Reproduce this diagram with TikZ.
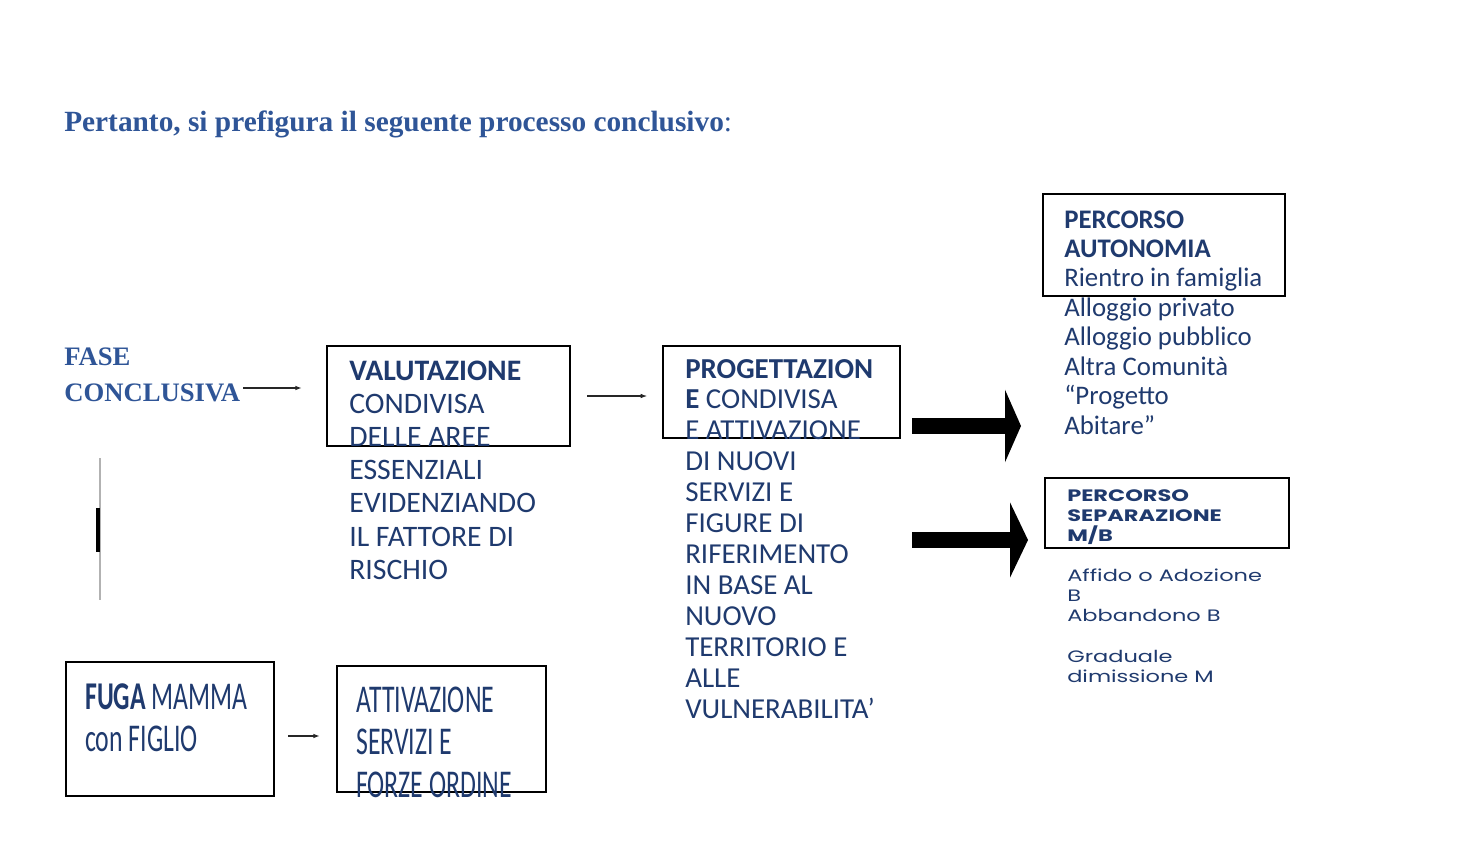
\documentclass[tikz,border=0pt]{standalone}
\usepackage{fontspec}
\setmainfont{Liberation Serif}
\newfontfamily\calfont{Carlito}
\newfontfamily\condfont[FakeStretch=0.655]{Carlito}
\newfontfamily\gothfont[FakeStretch=1.36]{Poppins}
\usetikzlibrary{arrows.meta,fit}
\definecolor{titleblue}{HTML}{2F5597}
\definecolor{navy}{HTML}{1F3A6E}
\newcommand\txtblock[1]{\parbox[t]{12cm}{\raggedright #1}}
\tikzset{
  px/.style={x=0.75pt,y=-0.75pt},
  boxframe/.style={draw=black,line width=1.5pt,inner sep=0pt},
  txt/.style={anchor=base west,inner sep=0pt,text=navy},
  thinarrow/.style={draw=black!85,line width=1pt,-{Latex[length=5pt,width=3.5pt]}},
  fatarrow/.style={draw=black,line width=11.5pt,-{Triangle[length=12pt,width=54pt]}},
  ftitle/.style={anchor=base west,inner sep=0pt,text=titleblue,font=\fontsize{20pt}{27pt}\selectfont\bfseries},
  bigtxt/.style={txt,font=\calfont\fontsize{22.3pt}{24.9pt}\selectfont},
  midtxt/.style={txt,font=\calfont\fontsize{21.7pt}{23.2pt}\selectfont},
  autotxt/.style={txt,font=\calfont\fontsize{20.1pt}{22.1pt}\selectfont},
  gothtxt/.style={txt,font=\gothfont\fontsize{12.4pt}{15.2pt}\selectfont},
  condtxt/.style={txt,font=\condfont\fontsize{29.5pt}{32pt}\selectfont},
}
\begin{document}
\begin{tikzpicture}[px]
\useasboundingbox (0,0) rectangle (1474,860);
% title
\node[ftitle,font=\fontsize{22pt}{27pt}\selectfont\bfseries] (title) at (64,131) {Pertanto, si prefigura il seguente processo conclusivo\mdseries:};
% FASE CONCLUSIVA
\node[ftitle] (fase) at (64,365) {FASE};
\node[ftitle] (concl) at (64,401) {CONCLUSIVA};
% box 1
\node[boxframe,fit={(327,346)(570,446)}] (box1) {};
\node[bigtxt] (valtxt) at (349,380) {\txtblock{\textbf{VALUTAZIONE}\\CONDIVISA\\DELLE AREE\\ESSENZIALI\\EVIDENZIANDO\\IL FATTORE DI\\RISCHIO}};
% box 2
\node[boxframe,fit={(663,346)(900,438)}] (box2) {};
\node[midtxt] (progtxt) at (685,378) {\txtblock{\textbf{PROGETTAZION}\\\textbf{E} CONDIVISA\\E ATTIVAZIONE\\DI NUOVI\\SERVIZI E\\FIGURE DI\\RIFERIMENTO\\IN BASE AL\\NUOVO\\TERRITORIO E\\ALLE\\VULNERABILITA’}};
% autonomia
\node[boxframe,fit={(1043,194)(1285,296)}] (box3) {};
\node[autotxt] (autotxt) at (1064,228) {\txtblock{\textbf{PERCORSO}\\\textbf{AUTONOMIA}\\Rientro in famiglia\\Alloggio privato\\Alloggio pubblico\\Altra Comunità\\“Progetto\\Abitare”}};
% separazione
\node[boxframe,fit={(1045,478)(1289,548)}] (box4) {};
\node[gothtxt] (septxt) at (1067,501) {\txtblock{\textbf{PERCORSO}\\\textbf{SEPARAZIONE}\\\textbf{M/B}}};
\node[gothtxt] (septxt2) at (1067,581) {\txtblock{Affido o Adozione\\B\\Abbandono B\\[15.2pt]Graduale\\dimissione M}};
% fuga
\node[boxframe,fit={(66,662)(274,796)}] (box5) {};
\node[condtxt] (fugatxt) at (85,709) {\txtblock{\textbf{FUGA} MAMMA\\con FIGLIO}};
\node[boxframe,fit={(337,666)(546,792)}] (box6) {};
\node[condtxt] (atttxt) at (356,712) {\txtblock{ATTIVAZIONE\\SERVIZI E\\FORZE ORDINE}};
% thin arrows
\draw[thinarrow] ([xshift=2pt]concl.east |- 0,388) coordinate (a1s) -- ([xshift=-18pt]box1.west |- 0,388) coordinate (a1e);
\draw[thinarrow] ([xshift=12pt]box1.east |- 0,396) coordinate (a2s) -- ([xshift=-11pt]box2.west |- 0,396) coordinate (a2e);
\draw[thinarrow] ([xshift=10pt]box5.east |- 0,736) coordinate (a3s) -- ([xshift=-12pt]box6.west |- 0,736) coordinate (a3e);
% fat arrows
\coordinate (f1s) at (912,426);
\coordinate (f1e) at (1021,426);
\coordinate (f2s) at (912,540);
\coordinate (f2e) at (1028,540);
\draw[fatarrow] (f1s) -- (f1e);
\draw[fatarrow,-{Triangle[length=13.5pt,width=56pt]}] (f2s) -- (f2e);
% left vertical mark
\coordinate (v1) at (100,458);
\coordinate (v2) at (100,600);
\draw[black!30,line width=0.8pt] (v1) -- (v2);
\coordinate (m1) at (98,508);
\coordinate (m2) at (98,552);
\draw[black,line width=3pt] (m1) -- (m2);
\end{tikzpicture}
\end{document}
